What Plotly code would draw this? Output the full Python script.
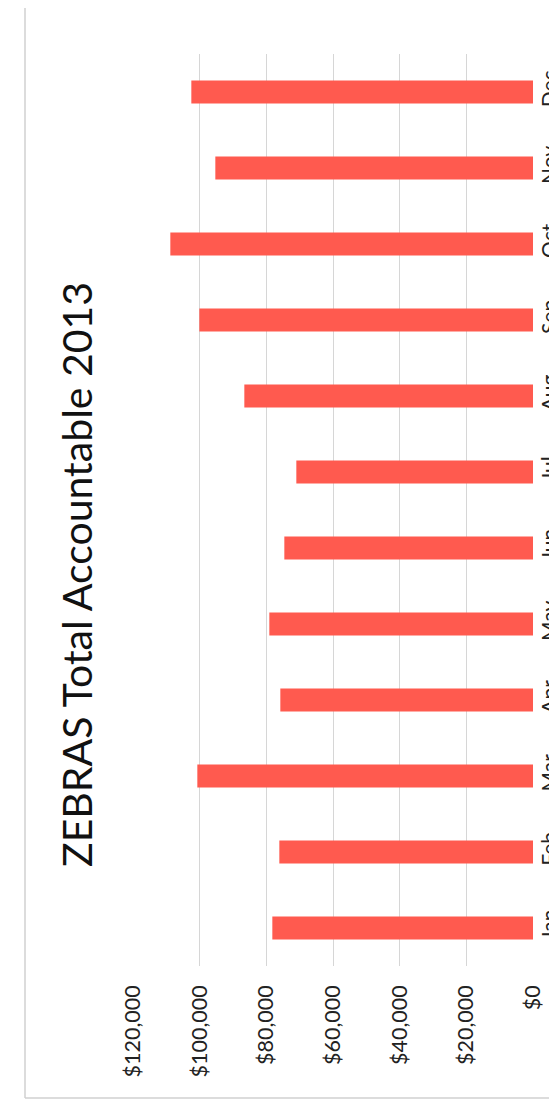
import plotly.graph_objects as go

months = ["Jan", "Feb", "Mar", "Apr", "May", "Jun", "Jul", "Aug", "Sep", "Oct", "Nov", "Dec"]
values = [78200, 76100, 100700, 75800, 79100, 74600, 71000, 86600, 100100, 108800, 95300, 102500]
tick_vals = [0, 20000, 40000, 60000, 80000, 100000, 120000]
tick_text = ["$0", "$20,000", "$40,000", "$60,000", "$80,000", "$100,000", "$120,000"]
title_text = "ZEBRAS Total Accountable 2013"

W, H = 557, 1101
L, R, T, B = 125, 32, 46, 143
pw, ph = W - L - R, H - T - B

def px_x(p):
    return (p - L) / pw

def px_y(p):
    return (H - B - p) / ph

fig = go.Figure(go.Bar(
    x=values, y=months, orientation="h",
    marker=dict(color="#FF5A4F", line=dict(width=0)),
))

fig.update_layout(
    width=W, height=H,
    margin=dict(l=L, r=R, t=T, b=B, autoexpand=False),
    paper_bgcolor="white", plot_bgcolor="white",
    bargap=0.70,
    showlegend=False,
    font=dict(family="Lato", color="#222222"),
)
fig.update_xaxes(
    range=[120000, 0], tickvals=tick_vals, ticktext=tick_text,
    tickangle=-90, showgrid=True, gridcolor="#D6D6D6", gridwidth=1,
    zeroline=False, showline=False, ticks="", ticklabelstandoff=14,
    automargin=False,
    tickfont=dict(size=21.5, family="Lato", color="#222222"),
)
fig.update_yaxes(
    side="right", categoryorder="array", categoryarray=months,
    range=[-0.5, 11.5], tickangle=-90, showgrid=False, showline=False,
    ticks="", ticklabelstandoff=2, automargin=False,
    tickfont=dict(size=21, family="Lato", color="#222222"),
)

fig.add_annotation(
    text=title_text, textangle=-90, xref="paper", yref="paper",
    x=px_x(68), y=px_y(567), xanchor="center", yanchor="middle",
    showarrow=False, font=dict(size=41, family="Lato", color="#111111"),
)

# chart frame (left and bottom edges)
fig.add_shape(type="line", xref="paper", yref="paper",
              x0=px_x(17), x1=px_x(17), y0=px_y(0), y1=px_y(1090),
              line=dict(color="#D0D0D0", width=1.5))
fig.add_shape(type="line", xref="paper", yref="paper",
              x0=px_x(17), x1=px_x(557), y0=px_y(1090), y1=px_y(1090),
              line=dict(color="#D0D0D0", width=1.5))

fig.write_html("out.html")
